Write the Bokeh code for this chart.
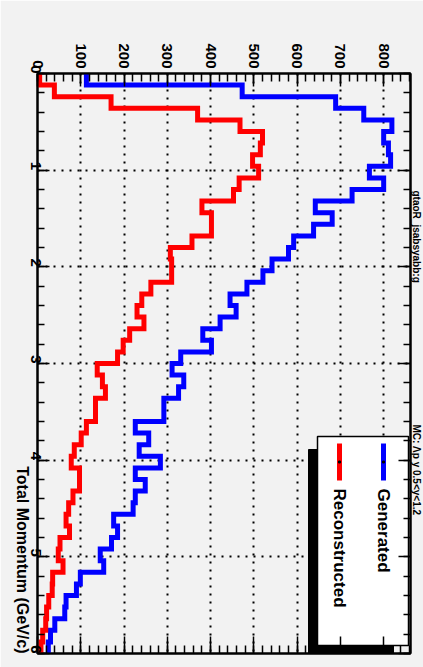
import numpy as np
from bokeh.plotting import figure
from bokeh.models import Range1d, LinearAxis, FixedTicker, BoxAnnotation, Label, CustomJSTickFormatter, Title
from bokeh.embed import file_html
from bokeh.resources import INLINE

# ---------------- data ----------------
momentum_min = 0.0
momentum_max = 6.0
n_bins = 50
generated = [113, 473, 689, 754, 819, 800, 811, 816, 767, 800,
             727, 642, 681, 638, 592, 580, 542, 521, 484, 445,
             459, 422, 382, 402, 331, 311, 338, 326, 292, 292,
             226, 257, 235, 284, 226, 249, 226, 221, 176, 185,
             171, 145, 153, 99, 90, 66, 63, 40, 30, 25]
reconstructed = [5, 39, 170, 370, 468, 520, 515, 497, 511, 466,
                 453, 380, 402, 402, 357, 307, 310, 310, 262, 241,
                 230, 246, 213, 198, 185, 138, 150, 157, 134, 134,
                 113, 101, 85, 78, 97, 97, 82, 72, 66, 74,
                 52, 48, 59, 35, 34, 26, 21, 19, 12, 8]
count_max = 862
count_ticks = [0, 100, 200, 300, 400, 500, 600, 700, 800]
count_minor = list(range(0, 861, 20))
momentum_ticks = [0, 1, 2, 3, 4, 5, 6]
momentum_minor = [round(0.2 * i, 1) for i in range(31)]
series_names = ["Generated", "Reconstructed"]
series_colors = ["#0000ff", "#ff0000"]
axis_title = "Total Momentum (GeV/c)"
hist_title_parts = ["gtaoR_jsabsyabb:g", "MC: \u039bp  y 0.5<y<1.2"]

# ---------------- layout helpers (canvas pixels -> data) ----------------
FONT = "Liberation Sans"
BG = "#f2f2f2"
W, H = 423, 667
F_LEFT, F_RIGHT, F_TOP, F_BOTTOM = 37, 410, 73, 653  # frame edges in canvas px
def cx(px):
    return (px - F_LEFT) / ((F_RIGHT - F_LEFT) / count_max)
def cy(py):
    return momentum_min + (py - F_TOP) / ((F_BOTTOM - F_TOP) / (momentum_max - momentum_min))

edges = np.linspace(momentum_min, momentum_max, n_bins + 1)
def step_path(counts):
    xs = np.repeat(np.asarray(counts, dtype=float), 2)
    ys = np.repeat(edges, 2)[1:-1]
    return xs, ys

p = figure(width=W, height=H, output_backend="svg", toolbar_location=None,
           x_range=Range1d(0, count_max), y_range=Range1d(momentum_max, momentum_min),
           x_axis_location="above", y_axis_location="left",
           min_border_left=F_LEFT, min_border_right=W - F_RIGHT,
           min_border_top=F_TOP, min_border_bottom=H - F_BOTTOM,
           background_fill_color=BG, border_fill_color=BG,
           outline_line_color="black", outline_line_width=2)

def style_axis(ax, major_in, minor_in):
    ax.axis_line_color = "black"
    ax.axis_line_width = 2
    ax.major_tick_line_color = "black"
    ax.major_tick_line_width = 1.5
    ax.minor_tick_line_color = "black"
    ax.minor_tick_line_width = 1.5
    ax.major_tick_in = major_in
    ax.major_tick_out = 0
    ax.minor_tick_in = minor_in
    ax.minor_tick_out = 0
    ax.major_label_text_font = FONT
    ax.major_label_text_font_style = "bold"
    ax.major_label_text_color = "black"
    ax.level = "overlay"

xa = p.xaxis[0]
xa.ticker = FixedTicker(ticks=count_ticks, minor_ticks=count_minor)
style_axis(xa, 13, 8)
xa.major_label_orientation = -np.pi / 2
xa.major_label_text_font_size = "15px"
xa.major_label_standoff = 5

ya = p.yaxis[0]
ya.ticker = FixedTicker(ticks=momentum_ticks, minor_ticks=momentum_minor)
style_axis(ya, 12, 7)
ya.major_label_orientation = -np.pi / 2
ya.major_label_text_font_size = "15px"
ya.major_label_standoff = 2
ya.axis_label = axis_title
ya.axis_label_text_font = FONT
ya.axis_label_text_font_style = "bold"
ya.axis_label_text_font_size = "16px"
ya.axis_label_text_color = "black"
ya.axis_label_standoff = 0
props = ya.properties()
if "axis_label_orientation" in props:
    ya.axis_label_orientation = -np.pi / 2
if "axis_label_align" in props:
    ya.axis_label_align = "end"

blank = CustomJSTickFormatter(code="return ''")
ra = LinearAxis(ticker=FixedTicker(ticks=momentum_ticks, minor_ticks=momentum_minor), formatter=blank)
style_axis(ra, 12, 7)
ra.major_label_standoff = 0
p.add_layout(ra, "right")
ba = LinearAxis(ticker=FixedTicker(ticks=count_ticks, minor_ticks=count_minor), formatter=blank)
style_axis(ba, 17, 8)
ba.major_label_standoff = 0
p.add_layout(ba, "below")

for g in (p.xgrid[0], p.ygrid[0]):
    g.grid_line_color = "black"
    g.grid_line_width = 2
    g.grid_line_dash = "2 6"

# histograms
for counts, color in ((generated, series_colors[0]), (reconstructed, series_colors[1])):
    xs, ys = step_path(counts)
    p.line(xs, ys, line_color=color, line_width=5, line_join="miter", line_cap="butt")

# legend (rotated)
p.add_layout(BoxAnnotation(left=cx(308), right=cx(393), top=cy(449), bottom=cy(653),
                           fill_color="black", fill_alpha=1, line_color="black", line_alpha=1))
p.add_layout(BoxAnnotation(left=cx(317), right=cx(408), top=cy(436), bottom=cy(645),
                           fill_color="white", fill_alpha=1, line_color="black", line_width=1.5, line_alpha=1))
legend_x = [cx(383), cx(339)]
p.segment(x0=legend_x, y0=[cy(443)] * 2, x1=legend_x, y1=[cy(480)] * 2,
          line_color=series_colors, line_width=5, level="overlay")
p.scatter(x=legend_x, y=[cy(461.5)] * 2, marker="square", size=2, color="black", level="overlay")
for lx, name in zip(legend_x, series_names):
    p.add_layout(Label(x=lx, y=cy(488), text=name, angle=-np.pi / 2,
                       text_align="left", text_baseline="middle",
                       text_font=FONT, text_font_style="bold", text_font_size="17px",
                       text_color="black", level="overlay"))

# histogram title on the right side (small so that it fits)
p.add_layout(Title(text=hist_title_parts[0] + "\u00a0" * 51 + hist_title_parts[1],
                   text_font=FONT, text_font_style="bold", text_font_size="10px",
                   text_color="black", align="left", offset=117, standoff=0), "right")

open("out.html", "w").write(file_html(p, INLINE))
